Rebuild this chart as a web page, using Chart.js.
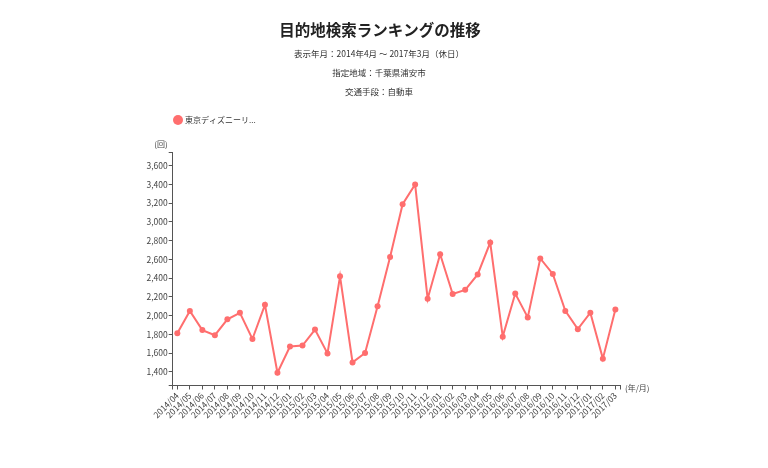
<!DOCTYPE html>
<html lang="ja">
<head>
<meta charset="utf-8">
<title>目的地検索ランキングの推移</title>
<script src="https://cdn.jsdelivr.net/npm/chart.js@4/dist/chart.umd.min.js"></script>
<style>
  html, body { margin: 0; padding: 0; background: #fff; }
  #wrap { width: 768px; height: 468px; position: relative; }
</style>
</head>
<body>
<div id="wrap"><canvas id="rankChart" width="768" height="468"></canvas></div>
<script>
// チャートのデータ
const chartTitle = '目的地検索ランキングの推移';
const subTitles = ['表示年月：2014年4月 ～ 2017年3月（休日）', '指定地域：千葉県浦安市', '交通手段：自動車'];
const seriesName = '東京ディズニーリ...';
const months = [
    '2014/04', '2014/05', '2014/06', '2014/07', '2014/08', '2014/09', '2014/10', '2014/11', '2014/12',
    '2015/01', '2015/02', '2015/03', '2015/04', '2015/05', '2015/06', '2015/07', '2015/08', '2015/09',
    '2015/10', '2015/11', '2015/12', '2016/01', '2016/02', '2016/03', '2016/04', '2016/05', '2016/06',
    '2016/07', '2016/08', '2016/09', '2016/10', '2016/11', '2016/12', '2017/01', '2017/02', '2017/03'
];
const visits = [
    1810, 2050, 1845, 1790, 1960, 2030, 1750, 2115, 1390,
    1670, 1680, 1850, 1595, 2420, 1500, 1600, 2100, 2625,
    3190, 3400, 2180, 2655, 2230, 2275, 2440, 2780, 1775,
    2235, 1980, 2610, 2445, 2050, 1855, 2030, 1540, 2065
];
const yTicks = [1400, 1600, 1800, 2000, 2200, 2400, 2600, 2800, 3000, 3200, 3400, 3600];
const yMin = 1253;
const yMax = 3740;
const xPad = 0.37;
const yUnit = '(回)';
const xUnit = '(年/月)';

const lineColor = '#ff6e6e';
const axisColor = '#555';
const fontFamily = '"Noto Sans CJK JP", "Noto Sans", sans-serif';

// タイトル・凡例・単位を描く
const decorPlugin = {
    id: 'decor',
    afterDraw(chart) {
        const ctx = chart.ctx;
        const area = chart.chartArea;
        ctx.save();
        ctx.textBaseline = 'middle';
        ctx.textAlign = 'center';
        ctx.fillStyle = '#222';
        ctx.font = 'bold 15.5px ' + fontFamily;
        ctx.fillText(chartTitle, 380, 30);
        ctx.font = '8.5px ' + fontFamily;
        ctx.fillStyle = '#333';
        subTitles.forEach((t, i) => ctx.fillText(t, 379, 54 + i * 19));

        // 凡例
        const ds = chart.data.datasets[0];
        ctx.fillStyle = ds.borderColor;
        ctx.beginPath();
        ctx.arc(178, 120, 5, 0, Math.PI * 2);
        ctx.fill();
        ctx.fillStyle = '#333';
        ctx.textAlign = 'left';
        ctx.font = '8px ' + fontFamily;
        ctx.fillText(ds.label, 185, 120);

        // 単位
        ctx.fillStyle = '#444';
        ctx.font = '8px ' + fontFamily;
        ctx.textAlign = 'center';
        ctx.fillText(yUnit, 161, 144);
        ctx.textAlign = 'left';
        ctx.fillText(xUnit, area.right + 5, area.bottom + 2);
        ctx.restore();
    }
};

new Chart(document.getElementById('rankChart'), {
    type: 'line',
    data: {
        datasets: [{
            label: seriesName,
            data: months.map((m, i) => ({ x: i, y: visits[i] })),
            borderColor: lineColor,
            backgroundColor: lineColor,
            borderWidth: 2,
            pointRadius: 3,
            pointHoverRadius: 3,
            pointBackgroundColor: lineColor,
            pointBorderWidth: 0,
            tension: 0
        }]
    },
    options: {
        responsive: false,
        animation: false,
        devicePixelRatio: 1,
        layout: { padding: { left: 120, right: 148, top: 152.7, bottom: 0 } },
        plugins: {
            legend: { display: false },
            title: { display: false },
            tooltip: { enabled: false }
        },
        scales: {
            x: {
                type: 'linear',
                min: -xPad,
                max: months.length - 1 + xPad,
                afterBuildTicks(scale) {
                    const ticks = [{ value: -xPad }];
                    months.forEach((m, i) => ticks.push({ value: i }));
                    ticks.push({ value: months.length - 1 + xPad });
                    scale.ticks = ticks;
                },
                afterFit(scale) { scale.height = 82.5; },
                ticks: {
                    autoSkip: false,
                    minRotation: 45,
                    maxRotation: 45,
                    padding: 1,
                    color: '#444',
                    font: { family: fontFamily, size: 8.5 },
                    callback: (v) => Number.isInteger(v) ? months[v] : ''
                },
                grid: { drawOnChartArea: false, drawTicks: true, tickLength: 4, color: axisColor },
                border: { display: true, color: axisColor, width: 1 }
            },
            y: {
                min: yMin,
                max: yMax,
                afterBuildTicks(scale) {
                    scale.ticks = [yMin].concat(yTicks, [yMax]).map(v => ({ value: v }));
                },
                afterFit(scale) { scale.width = 52.7; },
                ticks: {
                    padding: 1,
                    color: '#444',
                    font: { family: fontFamily, size: 8.5 },
                    callback: (v) => yTicks.includes(v) ? v.toLocaleString('en-US') : ''
                },
                grid: { drawOnChartArea: false, drawTicks: true, tickLength: 4, color: axisColor },
                border: { display: true, color: axisColor, width: 1 }
            }
        }
    },
    plugins: [decorPlugin]
});
</script>
</body>
</html>
